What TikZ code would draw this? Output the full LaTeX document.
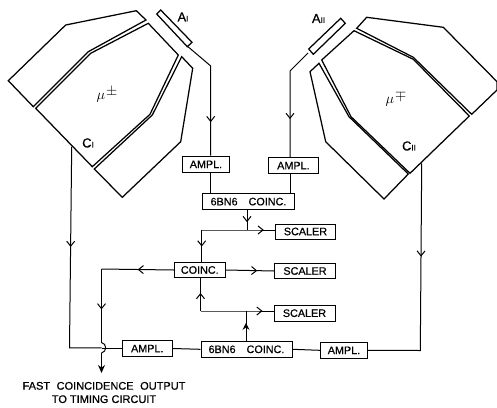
\documentclass[tikz,border=0pt]{standalone}
\usepackage{fontspec}
\setmainfont[FakeBold=0.6]{Liberation Sans}
\usetikzlibrary{arrows.meta,decorations.markings}
\tikzset{
  wire/.style={line width=1pt, line join=miter},
  det/.style={line width=1.25pt, line join=miter},
  boxnode/.style={draw, line width=1pt, inner sep=0pt, font=\fontsize{10.8}{12}\selectfont},
  lab/.style={inner sep=0pt, font=\fontsize{13}{15}\selectfont},
  midarrow/.style={postaction={decorate}, decoration={markings, mark=at position #1 with {\arrow[line width=1pt]{Straight Barb[length=5pt,width=8pt]}}}},
  midfill/.style={postaction={decorate}, decoration={markings, mark=at position #1 with {\arrow{Stealth[length=7pt,width=7pt]}}}},
}
\newcommand{\bx}[6]{\node[boxnode, minimum width=#4pt, minimum height=#5pt] (#1) at (#2,#3) {#6};}
\newcommand{\subm}[1]{{\fontsize{8}{9}\selectfont #1}}
\begin{document}
\begin{tikzpicture}[x=1pt,y=-1pt]
\useasboundingbox (0,0) rectangle (497,407);
% left detector
\draw[det] (136.3,10.7)--(65.7,25)--(8.3,80.7)--(33.3,106.7)--(88.3,51.7)--(146,20)--cycle;
\draw[det] (148.3,23.3)--(90.7,53.3)--(35.7,108.3)--(92.3,166.7)--(150,114.3)--(178.3,55)--cycle;
\draw[det] (181.7,56.7)--(152.3,115)--(94.3,169)--(122.3,197.3)--(180.7,141.7)--(192.7,68.3)--cycle;
\draw[det] (160.7,10)--(156.7,14)--(187.3,46.7)--(192,42.3)--cycle;
% right detector
\draw[det] (366.7,17.3)--(443.3,27.3)--(497,81.7)--(497,90)--(471.7,114.3)--(413.3,57.3)--(356.7,28.3)--cycle;
\draw[det] (354,30.7)--(321.7,60)--(351,116.7)--(410,173.3)--(469.3,116)--(413.3,59.3)--cycle;
\draw[det] (319,63.3)--(310,71.7)--(325.7,141.7)--(384,199)--(408.3,174)--(349,116.7)--cycle;
\draw[det] (340.7,18.3)--(345.3,23.3)--(313.3,54.3)--(308.7,49)--cycle;
% labels
\node[lab] (la1) at (183,17) {A\subm{I}};
\node[lab] (la2) at (318.5,18.5) {A\subm{II}};
\node[lab] (lc1) at (88,143) {C\subm{I}};
\node[lab] (lc2) at (409,146) {C\subm{II}};
\node[lab, font=\fontsize{15}{17}\selectfont] (mu1) at (107,95) {$\mu$\hspace{1pt}\raisebox{4pt}{$\pm$}};
\node[lab, font=\fontsize{15}{17}\selectfont] (mu2) at (396,99) {$\mu$\hspace{1pt}\raisebox{4pt}{$\mp$}};
% boxes
\bx{amplA}{206}{164.3}{46.5}{16.5}{AMPL.}
\bx{amplB}{293.4}{165.6}{49.3}{16.5}{AMPL.}
\bx{coincT}{248.5}{201.6}{91.6}{16.5}{6BN6\hspace{11pt}COINC.}
\bx{scA}{305.5}{231.5}{60.4}{15}{SCALER}
\bx{scB}{305}{271}{60.6}{15.4}{SCALER}
\bx{scC}{304.5}{313.2}{61}{16.3}{SCALER}
\bx{coincM}{199.8}{270}{51}{15.4}{COINC.}
\bx{coincB}{246.5}{349.3}{91}{16.5}{6BN6\hspace{11pt}COINC.}
\bx{amplC}{147.3}{348.5}{50}{16.4}{AMPL.}
\bx{amplD}{344}{350.3}{47.4}{16.6}{AMPL.}
\node[lab, align=center, font=\fontsize{11}{13.3}\selectfont] (out) at (104,392.5) {FAST\hspace{3.5pt} COINCIDENCE\hspace{3.5pt} OUTPUT\\TO TIMING CIRCUIT};
% free ends
\coordinate (a1s) at (188,46.7);
\coordinate (a1k) at (210.7,66);
\coordinate (a2s) at (308,53);
\coordinate (a2k) at (290,71);
\coordinate (c1s) at (71.7,146.7);
\coordinate (c1k) at (69.5,347.8);
\coordinate (c2s) at (421.7,163.3);
\coordinate (c2k) at (420.3,350.5);
\coordinate (splitT) at (247,230);
\coordinate (lT) at (201.7,230);
\coordinate (splitB) at (246,311);
\coordinate (lB) at (200.5,311);
\coordinate (outK) at (101.5,269);
\coordinate (hopA) at (101.5,342.5);
\coordinate (hopB) at (101.5,353);
\coordinate (tip) at (101.5,373);
% wires
\draw[wire, midarrow=0.72] (a1s)--(a1k)--(a1k|-amplA.north);
\draw[wire, midarrow=0.66] (a2s)--(a2k)--(a2k|-amplB.north);
\draw[wire] (a1k|-amplA.south)--(a1k|-coincT.north);
\draw[wire] (a2k|-amplB.south)--(a2k|-coincT.north);
\draw[wire, midarrow=0.6] (splitT|-coincT.south)--(splitT);
\draw[wire, midarrow=0.85] (lT)--(splitT)--(scA.west|-splitT);
\draw[wire, midarrow=0.52] (lT)--(lT|-coincM.north);
\draw[wire, midarrow=0.65] (coincM.east)--(scB.west);
\draw[wire, midarrow=0.55] (lB)--(lB|-coincM.south);
\draw[wire, midarrow=0.85] (lB)--(splitB)--(scC.west|-splitB);
\draw[wire, midfill=0.6] (splitB|-coincB.north)--(splitB);
\draw[wire, midarrow=0.43] (c1s)--(c1k)--(hopA|-c1k);
\draw[wire] (hopA|-amplC.west)--(amplC.west);
\draw[wire] (amplC.east)--(coincB.west);
\draw[wire] (coincB.east)--(amplD.west);
\draw[wire, midarrow=0.39] (c2s)--(c2k)--(amplD.east);
\draw[wire, midarrow=0.5] (coincM.west)--(outK);
\draw[wire, midarrow=0.55] (outK)--(hopA);
\draw[wire] (hopA) .. controls (107,343.5) and (107,352) .. (hopB);
\draw[wire, -{Stealth[length=8pt,width=7pt]}] (hopB)--(tip);
\end{tikzpicture}
\end{document}
